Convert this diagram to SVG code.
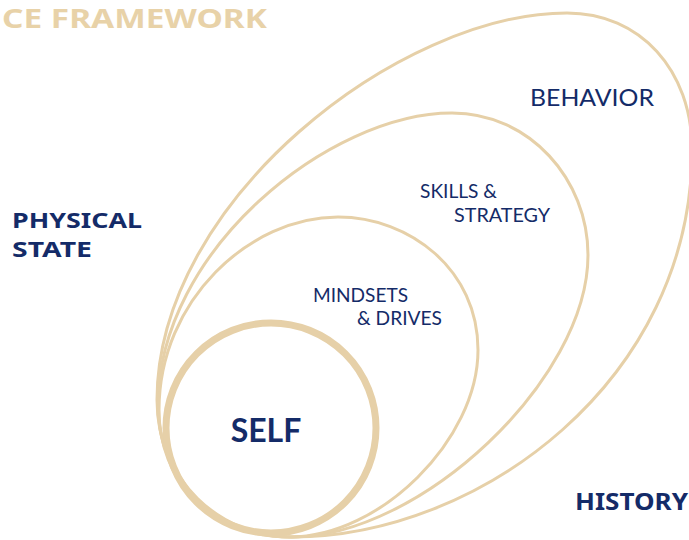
<svg xmlns="http://www.w3.org/2000/svg" width="689" height="540" viewBox="0 0 689 540">
  <style>
    .ring { fill: none; stroke: #e6d0a8; stroke-width: 3; }
    .core { fill: none; stroke: #e6d0a8; stroke-width: 7; }
    .lbl { font-family: Lato, "Noto Sans", sans-serif; fill: #142b68; }
    .side { font-family: "Noto Sans", "Open Sans", sans-serif; font-weight: 700; fill: #142b68; }
    .title { font-family: "Noto Sans", "Open Sans", sans-serif; font-weight: 700; fill: #e8d2a8; }
  </style>
  <rect width="689" height="540" fill="#ffffff"/>

  <text class="title" x="2" y="28" font-size="27" textLength="265" lengthAdjust="spacingAndGlyphs">CE FRAMEWORK</text>

  <g id="behavior">
    <path class="ring" d="M292,537 C220,537 157,480 157,400 C157,200 400,13 567,13 C640,13 692,70 692,150 C692,380 480,537 292,537 Z"/>
    <text class="lbl" x="530" y="106" font-size="24" textLength="124" lengthAdjust="spacingAndGlyphs">BEHAVIOR</text>
  </g>

  <g id="skills">
    <path class="ring" d="M292,537 C215,537 158,480 158,405 C158,250 330,113 452,113 C530,113 588,180 588,255 C588,380 420,537 292,537 Z"/>
    <text class="lbl" x="420" y="198" font-size="19" textLength="77" lengthAdjust="spacingAndGlyphs">SKILLS &amp;</text>
    <text class="lbl" x="454" y="222" font-size="19" textLength="96" lengthAdjust="spacingAndGlyphs">STRATEGY</text>
  </g>

  <g id="mindsets">
    <path class="ring" d="M290,537 C210,537 159,480 159,410 C159,300 250,217 338,217 C410,217 478,270 478,350 C478,440 380,537 290,537 Z"/>
    <text class="lbl" x="313" y="302" font-size="19" textLength="95" lengthAdjust="spacingAndGlyphs">MINDSETS</text>
    <text class="lbl" x="357" y="325" font-size="19" textLength="85" lengthAdjust="spacingAndGlyphs">&amp; DRIVES</text>
  </g>

  <g id="self">
    <circle class="core" cx="271" cy="428" r="105"/>
    <text class="lbl" x="266" y="442" font-size="32" font-weight="700" text-anchor="middle">SELF</text>
  </g>

  <g id="physical-state">
    <text class="side" x="12" y="228" font-size="22" textLength="130" lengthAdjust="spacingAndGlyphs">PHYSICAL</text>
    <text class="side" x="12" y="257" font-size="22" textLength="80" lengthAdjust="spacingAndGlyphs">STATE</text>
  </g>

  <g id="history">
    <text class="side" x="575" y="510" font-size="23" textLength="113" lengthAdjust="spacingAndGlyphs">HISTORY</text>
  </g>
</svg>
